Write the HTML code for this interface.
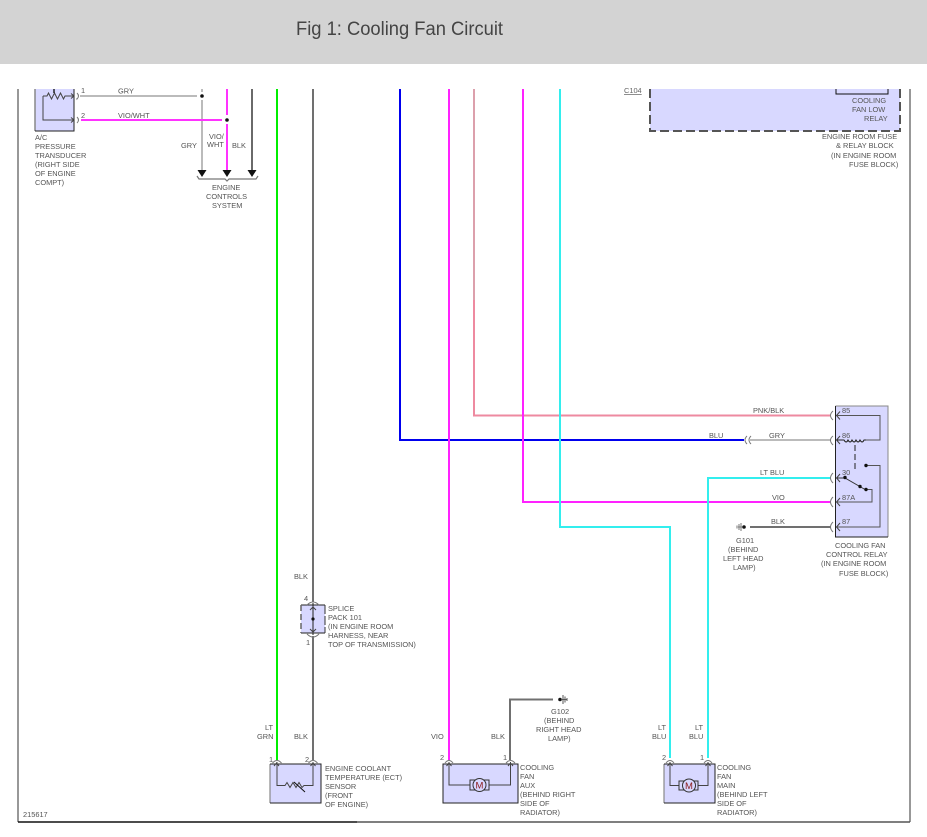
<!DOCTYPE html>
<html>
<head>
<meta charset="utf-8">
<style>
html,body{margin:0;padding:0;background:#fff;width:927px;height:837px;overflow:hidden}
svg{display:block}
text{font-family:"Liberation Sans",sans-serif}
.t text,text.t{font-size:7.4px;fill:#555}
.w{fill:none;stroke-width:2}
.n{fill:none;stroke:#444;stroke-width:1}
.c{fill:none;stroke:#777;stroke-width:1}
.d{filter:blur(.3px)}
</style>
</head>
<body>
<svg width="927" height="837" viewBox="0 0 927 837" xmlns="http://www.w3.org/2000/svg">
<rect width="927" height="837" fill="#fff"/>
<rect width="927" height="64" fill="#d3d3d3"/>
<text x="296" y="35" font-size="19" fill="#444" textLength="207" lengthAdjust="spacingAndGlyphs">Fig 1: Cooling Fan Circuit</text>

<g class="d">
<!-- frame -->
<path d="M18 89V822" stroke="#777" stroke-width="1.5" fill="none"/>
<path d="M910 89V822" stroke="#777" stroke-width="1.5" fill="none"/>
<path d="M18 822H357" stroke="#111" stroke-width="1.5" fill="none"/>
<path d="M357 822H910" stroke="#555" stroke-width="1.5" fill="none"/>

<!-- A/C transducer -->
<rect x="35" y="89" width="39" height="42" fill="#d8d8ff"/>
<path d="M35 89V131" stroke="#888" stroke-width="1.5"/>
<path d="M35 131H74V89" stroke="#222" stroke-width="1" fill="none"/>
<path d="M43 96V120H74" class="n"/>
<path d="M43 96H47l1.5-3 3 6 3-6 3 6 3-6 3 6 1.5-3H74" class="n"/>
<path d="M54 89V93" stroke="#222" stroke-width="1.5"/>
<path d="M71 93.500l3 2.500-3 2.500M71 117.500l3 2.500-3 2.500" class="n"/>
<path d="M77 93q3 3 0 6v-1M77 117q3 3 0 6" class="c"/>

<!-- A/C wiring -->
<path class="w" stroke="#bbb" d="M80 96H197"/>
<path class="w" stroke="#bbb" d="M202 100V170"/>
<path class="w" stroke="#bbb" d="M202 89V92"/>
<circle cx="202" cy="96" r="1.800" fill="#111"/>
<path class="w" stroke="#ff33ff" d="M81 120H222"/>
<path class="w" stroke="#ff33ff" d="M227 124V170"/>
<path class="w" stroke="#ff33ff" d="M227 89V115"/>
<circle cx="227" cy="120" r="1.800" fill="#111"/>
<path class="w" stroke="#6a6a6a" d="M252 89V170"/>
<path d="M197.500 170h9l-4.500 7zM222.500 170h9l-4.500 7zM247.500 170h9l-4.500 7z" fill="#111"/>
<path d="M197 176l2 3H225l2 2 2-2H256l2-3" fill="none" stroke="#777" stroke-width="1.200"/>

<!-- main vertical wires -->
<path class="w" stroke="#00ee00" d="M277 89V760"/>
<path class="w" stroke="#707070" d="M313 89V602M313 636V760"/>
<path class="w" stroke="#0000ee" d="M400 89V440H744"/>
<path class="w" stroke="#ff22ff" d="M449 89V760"/>
<path class="w" stroke="#dca0ac" d="M474 89V300"/>
<path class="w" stroke="#ee8aa0" d="M474 300V415.500H831"/>
<path class="w" stroke="#ff22ff" d="M523 89V502H831"/>
<path class="w" stroke="#33eeee" d="M560 89V527H670V758"/>
<path class="w" stroke="#33eeee" d="M708 758V478H831" stroke-width="1.500"/>

<!-- Fuse block -->
<rect x="650" y="89" width="250" height="42" fill="#d8d8ff"/>
<path d="M650 89V131H900V89" fill="none" stroke="#555" stroke-width="2" stroke-dasharray="9 4"/>
<path d="M836 89V94H888V89" fill="none" stroke="#111" stroke-width="1"/>
<text x="624" y="93" font-size="7.400" fill="#666" text-decoration="underline">C104</text>

<!-- Relay -->
<rect x="835" y="406" width="53" height="131" fill="#d8d8ff"/>
<path d="M835.500 406H888V537" fill="none" stroke="#888" stroke-width="1"/>
<path d="M835.500 406V537H888" fill="none" stroke="#222" stroke-width="1"/>
<path class="w" stroke="#bbb" d="M750 440H831"/>
<path d="M751 436q-4 4 0 8M747 436q-4 4 0 8" class="c"/>
<path d="M833 411q-5 4.500 0 9M833 436q-5 4 0 9M833 473q-5 5 0 10M833 497q-5 5 0 10M833 522q-5 5 0 10" class="c"/>
<path d="M840 411.500l-3.500 4 3.500 4M840 436l-3.500 4 3.500 4M840 474l-3.500 4 3.500 4M840 498l-3.500 4 3.500 4M840 523l-3.500 4 3.500 4" class="n"/>
<path class="w" stroke="#707070" d="M750 527H831"/>
<path d="M742 527h-4M741 523v8M739 524v6M737 525.500v3" stroke="#777" stroke-width="1" fill="none"/>
<circle cx="744" cy="527" r="1.800" fill="#111"/>
<path d="M837 415.500H880V440H866" fill="none" stroke="#555" stroke-width="1"/>
<path d="M837 440H844q2.200 4 4 0q2.200 4 4 0q2.200 4 4 0q2.200 4 4 0q2.200 4 4 0H866" fill="none" stroke="#222" stroke-width="1"/>
<path d="M855 445V470" stroke="#222" stroke-width="1" stroke-dasharray="6 3" fill="none"/>
<path d="M837 478H845L865 489.500" fill="none" stroke="#333" stroke-width="1"/>
<path d="M866 489.500H872V502H837" fill="none" stroke="#555" stroke-width="1"/>
<path d="M866 465.500H880V527H837" fill="none" stroke="#555" stroke-width="1"/>
<circle cx="845" cy="477.500" r="1.700" fill="#111"/>
<circle cx="860" cy="486.500" r="1.700" fill="#111"/>
<circle cx="866" cy="489.500" r="1.700" fill="#111"/>
<circle cx="866" cy="465.500" r="1.700" fill="#111"/>

<!-- G102 -->
<path class="w" stroke="#707070" d="M510 760V699.500H553"/>
<circle cx="560" cy="699.500" r="1.800" fill="#111"/>
<path d="M562 699.500h5M563 695v9M565 696.500v6M567 698v3" stroke="#555" stroke-width="1" fill="none"/>

<!-- Splice -->
<rect x="301" y="605" width="24" height="28" fill="#d8d8ff"/>
<path d="M301 605H325M301 633H325" stroke="#222" stroke-width="1"/>
<path d="M325 605V633" stroke="#333" stroke-width="1" stroke-dasharray="9 2" fill="none"/>
<path d="M301 605V633" stroke="#666" stroke-width="1.500" stroke-dasharray="6 3" fill="none"/>
<path d="M313 603V635" stroke="#222" stroke-width="1"/>
<path d="M310 610l3-3 3 3M310 629l3 3 3-3" class="n"/>
<circle cx="313" cy="619" r="1.600" fill="#111"/>
<path d="M307 605q6-6 12 0M307 634q6 6 12 0" class="c"/>

<!-- ECT -->
<rect x="270" y="764" width="51" height="39" fill="#d8d8ff"/>
<path d="M270 764V803" stroke="#888" stroke-width="1.200"/>
<path d="M270 764H321V803H270" fill="none" stroke="#222" stroke-width="1"/>
<path d="M277 762V785.500H285l2-3 3 5 3-5 3 5 3-5 3 5 2-2H313V762" class="n"/>
<path d="M294 782L305 792" stroke="#111" stroke-width="1"/>
<path d="M274 766l2.500-3 2.500 3M310.500 766l2.500-3 2.500 3" class="n"/>
<path d="M272.500 763q4.500-5 9 0M308.500 763q4.500-5 9 0" class="c"/>

<!-- AUX motor -->
<rect x="443" y="764" width="75" height="39" fill="#d8d8ff" stroke="#222" stroke-width="1"/>
<path d="M449 762V785H470M489 785H510.500V762" class="n"/>
<rect x="470" y="780" width="19" height="10" fill="none" stroke="#333"/>
<circle cx="479.500" cy="785" r="6.500" fill="#d8d8ff" stroke="#333"/>
<text x="479.500" y="788.500" font-size="9.500" fill="#8b1a1a" text-anchor="middle">M</text>
<path d="M446.500 766l2.500-3 2.500 3M508 766l2.500-3 2.500 3" class="n"/>
<path d="M445 763q4-5 8 0M506 763q4.500-5 9 0" class="c"/>

<!-- MAIN motor -->
<rect x="664" y="764" width="51" height="39" fill="#d8d8ff"/>
<path d="M664 764V803" stroke="#888" stroke-width="1.200"/>
<path d="M664 764H715V803H664" fill="none" stroke="#222" stroke-width="1"/>
<path d="M670 762V785.500H679M698 785.500H708V762" class="n"/>
<rect x="679" y="781" width="19" height="9" fill="none" stroke="#333"/>
<circle cx="689" cy="785.500" r="6.500" fill="#d8d8ff" stroke="#333"/>
<text x="689" y="789" font-size="9.500" fill="#8b1a1a" text-anchor="middle">M</text>
<path d="M667.500 766l2.500-3 2.500 3M705.500 766l2.500-3 2.500 3" class="n"/>
<path d="M666 763q4-5 8 0M704 763q4-5 8 0" class="c"/>

<g class="t">
<text x="81" y="93">1</text><text x="81" y="118">2</text>
<text x="118" y="93.500">GRY</text>
<text x="118" y="118">VIO/WHT</text>
<text x="35" y="140">A/C</text><text x="35" y="149">PRESSURE</text><text x="35" y="158">TRANSDUCER</text><text x="35" y="167">(RIGHT SIDE</text><text x="35" y="176">OF ENGINE</text><text x="35" y="185">COMPT)</text>
<text x="181" y="148">GRY</text>
<text x="209" y="139">VIO/</text><text x="207" y="147">WHT</text>
<text x="232" y="148">BLK</text>
<text x="212" y="190">ENGINE</text><text x="206" y="199">CONTROLS</text><text x="212" y="208">SYSTEM</text>

<text x="852" y="103">COOLING</text><text x="852" y="112">FAN LOW</text><text x="864" y="121">RELAY</text>
<text x="822" y="139">ENGINE ROOM FUSE</text><text x="836" y="148">&amp; RELAY BLOCK</text><text x="831" y="158">(IN ENGINE ROOM</text><text x="849" y="167">FUSE BLOCK)</text>

<text x="753" y="413">PNK/BLK</text>
<text x="709" y="438">BLU</text><text x="769" y="438">GRY</text>
<text x="760" y="475">LT BLU</text>
<text x="772" y="500">VIO</text>
<text x="771" y="524">BLK</text>
<text x="842" y="413">85</text><text x="842" y="438">86</text><text x="842" y="475">30</text><text x="842" y="500">87A</text><text x="842" y="524">87</text>
<text x="736" y="543">G101</text><text x="728" y="552">(BEHIND</text><text x="723" y="561">LEFT HEAD</text><text x="733" y="570">LAMP)</text>
<text x="835" y="548">COOLING FAN</text><text x="826" y="557">CONTROL RELAY</text><text x="821" y="566">(IN ENGINE ROOM</text><text x="839" y="576">FUSE BLOCK)</text>

<text x="294" y="579">BLK</text>
<text x="304" y="601">4</text><text x="306" y="645">1</text>
<text x="328" y="611">SPLICE</text><text x="328" y="620">PACK 101</text><text x="328" y="629">(IN ENGINE ROOM</text><text x="328" y="638">HARNESS, NEAR</text><text x="328" y="647">TOP OF TRANSMISSION)</text>

<text x="265" y="730">LT</text><text x="257" y="739">GRN</text>
<text x="294" y="739">BLK</text>
<text x="269" y="762">1</text><text x="305" y="762">2</text>
<text x="325" y="771">ENGINE COOLANT</text><text x="325" y="780">TEMPERATURE (ECT)</text><text x="325" y="789">SENSOR</text><text x="325" y="798">(FRONT</text><text x="325" y="807">OF ENGINE)</text>
<text x="23" y="817">215617</text>

<text x="431" y="739">VIO</text><text x="491" y="739">BLK</text>
<text x="440" y="760">2</text><text x="503" y="760">1</text>
<text x="551" y="714">G102</text><text x="544" y="723">(BEHIND</text><text x="536" y="732">RIGHT HEAD</text><text x="548" y="741">LAMP)</text>
<text x="520" y="770">COOLING</text><text x="520" y="779">FAN</text><text x="520" y="788">AUX</text><text x="520" y="797">(BEHIND RIGHT</text><text x="520" y="806">SIDE OF</text><text x="520" y="815">RADIATOR)</text>

<text x="658" y="730">LT</text><text x="652" y="739">BLU</text>
<text x="695" y="730">LT</text><text x="689" y="739">BLU</text>
<text x="662" y="760">2</text><text x="700" y="760">1</text>
<text x="717" y="770">COOLING</text><text x="717" y="779">FAN</text><text x="717" y="788">MAIN</text><text x="717" y="797">(BEHIND LEFT</text><text x="717" y="806">SIDE OF</text><text x="717" y="815">RADIATOR)</text>
</g>
</g>
</svg>
</body>
</html>
